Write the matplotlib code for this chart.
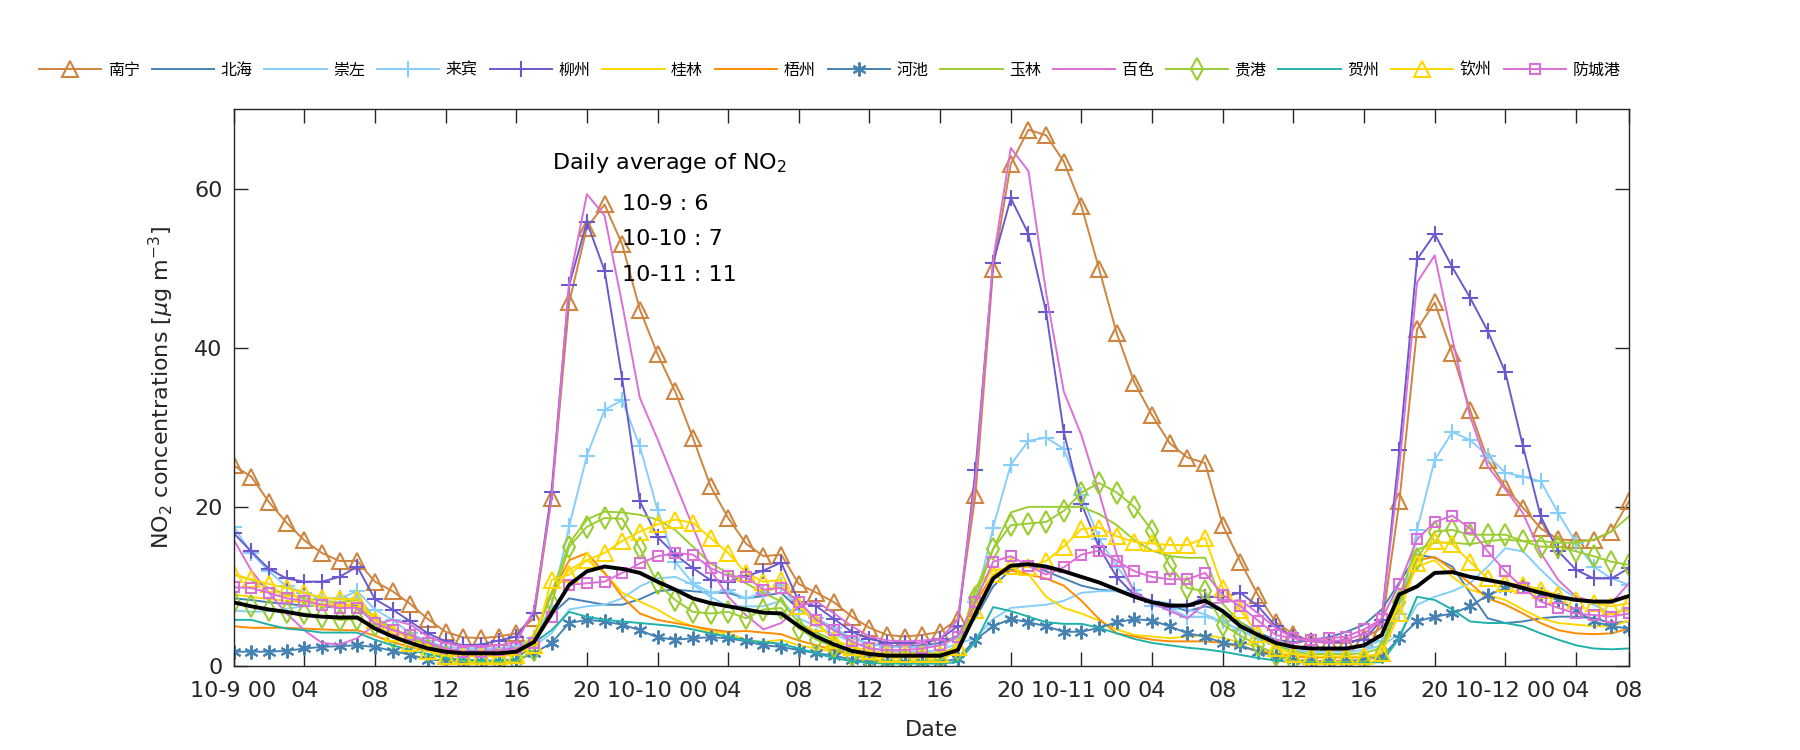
import numpy as np
import matplotlib
matplotlib.use('Agg')
import matplotlib.pyplot as plt

plt.rcParams['font.family'] = ['DejaVu Sans', 'Noto Sans CJK SC']
plt.rcParams['mathtext.fontset'] = 'dejavusans'

# hourly NO2, 10-9 00:00 .. 10-12 07:00 (80 points)
nanning = [25.2, 23.8, 20.6, 18.0, 15.8, 14.2, 13.2, 13.2, 10.6, 9.4, 7.8, 5.9, 4.3, 3.6, 3.5, 3.7, 4.1,
           6.0, 21.1, 45.7, 55.1, 58.0, 53.0, 44.8, 39.2, 34.5, 28.7, 22.6, 18.6,
           15.4, 13.8, 14.0, 10.3, 9.2, 8.0, 6.2, 4.8, 3.9, 3.7, 3.9, 4.3, 5.9, 21.5,
           49.9, 63.1, 67.4, 66.7, 63.4, 57.8, 49.9, 41.8, 35.6, 31.5, 28.0, 26.2, 25.5, 17.7,
           13.1, 8.9, 5.5, 4.0, 3.1, 2.9, 2.9, 3.5, 4.8, 20.7,
           42.3, 45.7, 39.3, 32.2, 25.9, 22.5, 19.9, 17.3, 15.9, 15.8, 15.8, 16.9, 20.7]
beihai = [8.5, 8.3, 8.0, 7.8, 7.6, 7.5, 7.3, 7.6, 5.8, 4.6, 3.5, 2.6, 2.1, 1.9, 1.9, 2.0, 2.3,
          3.5, 6.5, 8.5, 8.1, 7.7, 7.7, 8.4, 9.4, 9.6, 9.4, 9.2, 9.2,
          8.5, 8.8, 9.2, 7.1, 5.8, 4.5, 3.5, 2.8, 2.5, 2.5, 2.6, 2.9, 3.8, 6.0,
          10.0, 12.1, 12.8, 11.9, 11.0, 10.1, 9.6, 9.4, 8.7, 8.2, 7.6, 6.9, 7.5, 7.0,
          5.5, 4.2, 3.3, 3.0, 3.3, 3.6, 4.3, 5.2, 7.1, 10.5,
          14.0, 13.6, 12.5, 9.2, 6.0, 5.4, 5.6, 6.0, 6.2, 6.2, 6.0, 5.4, 5.6]
chongzuo = [7.0, 6.8, 6.9, 7.2, 7.5, 7.8, 7.8, 8.8, 6.0, 4.8, 3.6, 2.6, 2.0, 1.8, 1.7, 1.7, 1.9,
            2.5, 4.1, 7.1, 7.5, 7.7, 8.5, 10.0, 11.0, 11.2, 10.2, 8.7, 7.5,
            7.5, 7.5, 8.2, 6.0, 5.0, 4.0, 3.0, 2.2, 1.9, 1.8, 1.8, 2.0, 2.8, 3.5,
            5.9, 7.3, 7.5, 7.7, 8.2, 9.2, 9.4, 9.4, 9.0, 8.2, 7.9, 7.1, 6.5, 5.5,
            4.5, 3.4, 2.5, 2.0, 1.8, 1.8, 1.8, 2.0, 2.6, 4.0,
            7.7, 8.7, 9.4, 10.4, 12.5, 14.8, 14.4, 12.1, 10.0, 8.5, 7.7, 6.6, 7.1]
laibin = [17.5, 14.2, 11.9, 10.0, 9.2, 8.5, 8.5, 9.4, 7.1, 5.8, 4.1, 3.1, 2.4, 2.2, 2.2, 2.2, 2.5,
          3.5, 7.5, 17.6, 26.4, 32.2, 33.4, 27.6, 19.6, 13.1, 10.4, 9.2, 9.5,
          8.5, 9.2, 10.2, 7.1, 6.0, 4.8, 3.5, 2.8, 2.4, 2.4, 2.4, 2.6, 3.5, 8.0,
          17.4, 25.3, 28.3, 28.7, 27.3, 21.5, 16.0, 12.5, 9.6, 7.6, 7.2, 6.2, 6.2, 5.6,
          4.5, 3.5, 2.8, 2.4, 2.2, 2.2, 2.2, 2.4, 3.2, 6.5,
          17.1, 25.9, 29.4, 28.4, 26.4, 24.3, 23.8, 23.2, 19.2, 15.5, 12.5, 11.0, 10.2]
liuzhou = [16.7, 14.4, 12.2, 11.0, 10.6, 10.6, 11.2, 12.5, 8.4, 7.1, 5.6, 4.1, 3.1, 2.6, 2.7, 3.2, 3.7,
           6.6, 21.9, 47.9, 55.8, 49.7, 36.1, 20.7, 16.2, 14.0, 12.3, 10.8, 10.6,
           11.3, 12.0, 13.0, 8.1, 7.5, 5.9, 4.3, 3.4, 2.9, 2.9, 2.9, 3.4, 5.0, 24.6,
           50.7, 58.8, 54.3, 44.5, 29.4, 20.4, 14.9, 11.2, 8.9, 8.1, 7.4, 7.6, 8.7, 8.7,
           9.2, 7.5, 5.0, 3.7, 3.2, 3.0, 3.0, 3.3, 5.8, 27.1,
           51.1, 54.3, 50.1, 46.3, 42.1, 36.9, 27.6, 18.8, 14.4, 12.1, 11.0, 11.0, 12.3]
guilin = [9.0, 8.7, 8.4, 8.2, 8.0, 7.8, 7.6, 7.8, 5.8, 4.5, 3.4, 2.5, 1.8, 1.5, 1.4, 1.4, 1.6,
          4.0, 9.0, 12.1, 13.3, 11.7, 9.2, 8.1, 7.1, 5.8, 5.0, 4.3, 4.1,
          3.3, 3.0, 3.3, 2.6, 2.2, 1.8, 1.4, 1.2, 1.1, 1.1, 1.1, 1.2, 1.8, 10.0,
          12.0, 12.4, 11.5, 8.7, 7.3, 6.6, 5.7, 4.6, 3.9, 3.7, 3.5, 3.7, 3.9, 3.5,
          3.0, 2.4, 1.7, 1.3, 1.1, 1.1, 1.1, 1.1, 1.6, 8.0,
          12.5, 13.3, 11.2, 9.6, 8.9, 8.3, 7.1, 6.0, 5.4, 5.2, 5.0, 5.0, 5.7]
wuzhou = [5.0, 4.8, 4.8, 4.8, 4.7, 4.6, 4.5, 4.5, 3.8, 3.0, 2.4, 1.9, 1.6, 1.4, 1.3, 1.3, 1.5,
          3.5, 9.0, 13.3, 14.2, 11.7, 8.7, 6.6, 5.8, 5.4, 5.0, 4.6, 4.3,
          4.4, 4.2, 4.0, 3.2, 2.6, 2.0, 1.5, 1.2, 1.1, 1.1, 1.1, 1.1, 1.6, 8.0,
          11.5, 12.0, 11.5, 11.0, 10.1, 8.2, 5.9, 4.1, 3.7, 3.3, 3.1, 3.1, 3.1, 2.9,
          2.4, 1.9, 1.5, 1.2, 1.1, 1.1, 1.1, 1.1, 1.6, 8.0,
          13.3, 13.7, 12.1, 10.4, 8.5, 7.7, 6.6, 5.4, 4.5, 4.1, 4.0, 4.1, 4.7]
hechi = [1.8, 1.8, 1.8, 1.9, 2.2, 2.4, 2.5, 2.6, 2.4, 1.9, 1.4, 0.8, 0.7, 0.6, 0.6, 0.6, 0.7,
         1.6, 2.9, 5.4, 5.8, 5.6, 5.2, 4.5, 3.6, 3.3, 3.5, 3.6, 3.5,
         3.1, 2.6, 2.4, 2.0, 1.6, 1.3, 0.8, 0.6, 0.5, 0.5, 0.5, 0.5, 0.9, 3.3,
         5.0, 5.9, 5.5, 5.0, 4.3, 4.3, 4.8, 5.5, 5.9, 5.7, 5.0, 4.1, 3.7, 2.9,
         2.6, 1.8, 1.2, 0.8, 0.6, 0.6, 0.6, 0.8, 1.2, 3.5,
         5.6, 6.2, 6.6, 7.5, 8.9, 9.8, 10.0, 9.0, 8.3, 7.0, 5.6, 5.0, 4.7]
yulin = [11.5, 10.8, 9.8, 9.0, 8.5, 8.2, 8.0, 8.3, 6.0, 4.8, 3.6, 2.7, 2.0, 1.7, 1.6, 1.6, 1.8,
         3.5, 9.2, 15.4, 18.4, 19.4, 19.3, 19.0, 18.4, 17.1, 15.0, 12.9, 11.7,
         10.4, 9.2, 8.1, 5.4, 4.2, 3.2, 2.4, 1.8, 1.6, 1.6, 1.6, 1.6, 2.4, 9.5,
         14.7, 19.3, 20.0, 20.0, 20.0, 20.0, 19.1, 17.7, 15.8, 14.5, 13.8, 13.6, 13.6, 7.8,
         5.5, 3.8, 2.6, 1.8, 1.5, 1.5, 1.5, 1.6, 2.3, 9.0,
         14.6, 15.5, 15.5, 15.3, 15.7, 15.9, 15.7, 15.7, 15.5, 15.5, 15.9, 16.9, 18.8]
baise = [15.9, 12.0, 9.2, 6.6, 4.5, 2.9, 2.7, 3.5, 5.2, 5.8, 5.2, 3.7, 2.9, 2.5, 2.5, 2.6, 3.0,
         7.0, 21.0, 48.2, 59.3, 56.6, 45.5, 33.7, 28.5, 23.0, 17.5, 12.1, 8.7,
         6.4, 4.6, 5.4, 7.5, 8.1, 6.6, 5.0, 3.7, 3.2, 3.1, 3.2, 3.4, 5.8, 23.4,
         51.0, 65.1, 62.2, 46.9, 34.5, 29.0, 21.8, 14.0, 9.2, 8.0, 6.9, 6.0, 7.8, 8.0,
         8.3, 6.6, 4.8, 3.5, 3.1, 3.1, 3.3, 4.0, 6.0, 25.0,
         48.2, 51.6, 41.1, 31.4, 25.1, 22.2, 19.2, 14.2, 10.8, 8.7, 8.1, 7.9, 10.4]
guigang = [8.0, 7.5, 7.1, 6.8, 6.6, 6.2, 5.8, 5.9, 5.2, 3.7, 3.0, 2.0, 1.1, 0.6, 0.5, 0.5, 0.5,
           2.0, 7.9, 15.0, 17.5, 18.6, 18.5, 14.8, 10.4, 8.3, 6.8, 6.6, 6.8,
           6.0, 7.1, 7.3, 4.7, 3.3, 2.4, 1.4, 0.8, 0.6, 0.5, 0.6, 0.8, 2.0, 8.5,
           14.7, 17.7, 17.9, 18.1, 19.5, 21.8, 23.0, 21.8, 20.0, 17.0, 12.6, 9.8, 9.4, 5.2,
           3.8, 2.6, 1.4, 0.6, 0.5, 0.5, 0.5, 0.5, 1.7, 8.0,
           13.5, 16.9, 17.1, 16.5, 16.5, 16.5, 15.7, 15.0, 15.0, 14.4, 13.8, 13.1, 12.7]
hezhou = [5.8, 5.8, 5.2, 4.7, 4.5, 4.2, 4.2, 4.2, 3.3, 2.6, 2.0, 1.5, 1.0, 0.8, 0.7, 0.7, 0.8,
          2.9, 4.5, 6.8, 6.2, 5.8, 5.6, 5.4, 5.2, 5.0, 4.6, 4.1, 3.7,
          3.2, 3.0, 2.8, 2.2, 1.6, 1.0, 0.6, 0.4, 0.3, 0.3, 0.3, 0.3, 0.5, 3.0,
          7.4, 6.9, 6.2, 5.5, 5.3, 5.3, 4.8, 4.1, 3.4, 2.9, 2.6, 2.3, 2.1, 1.8,
          1.4, 1.0, 0.7, 0.5, 0.4, 0.4, 0.4, 0.4, 0.5, 3.5,
          8.7, 8.3, 7.1, 5.6, 5.4, 5.4, 5.0, 4.1, 3.3, 2.6, 2.2, 2.1, 2.2]
qinzhou = [11.5, 10.9, 10.3, 9.8, 9.2, 8.6, 8.4, 8.4, 5.8, 4.1, 2.9, 1.9, 1.3, 1.2, 1.2, 1.2, 1.4,
           2.6, 10.8, 11.5, 13.3, 14.2, 15.7, 16.9, 17.8, 18.4, 18.0, 16.1, 14.2,
           11.7, 10.6, 10.8, 7.5, 5.4, 3.3, 2.4, 1.9, 1.5, 1.5, 1.5, 1.5, 2.4, 7.0,
           11.5, 12.6, 12.4, 13.2, 15.0, 17.2, 17.4, 16.3, 15.6, 15.4, 15.2, 15.2, 16.1, 9.8,
           7.0, 4.0, 2.3, 1.5, 1.2, 1.2, 1.2, 1.2, 1.6, 6.6,
           13.0, 15.7, 15.3, 13.1, 11.0, 10.4, 10.2, 9.6, 8.9, 8.3, 7.9, 7.5, 7.9]
fangchenggang = [9.9, 9.8, 9.2, 8.5, 8.2, 7.7, 7.3, 7.3, 5.4, 4.5, 3.9, 2.9, 2.2, 1.8, 1.8, 2.0, 2.2,
                 2.9, 6.2, 10.2, 10.4, 10.6, 11.7, 12.9, 13.8, 14.2, 14.0, 12.3, 11.3,
                 11.2, 9.6, 9.8, 8.1, 5.8, 4.5, 3.1, 2.2, 2.0, 2.0, 2.2, 2.6, 3.7, 8.1,
                 13.1, 13.8, 12.6, 11.5, 12.4, 14.0, 14.5, 13.2, 11.9, 11.2, 10.9, 10.9, 11.7, 8.9,
                 7.5, 5.7, 3.9, 3.5, 3.3, 3.5, 3.7, 4.6, 5.9, 10.3,
                 15.9, 18.1, 18.9, 17.3, 14.4, 11.9, 9.8, 8.1, 7.3, 6.6, 6.4, 6.2, 6.6]
average = [8.0, 7.5, 7.1, 6.8, 6.4, 6.2, 6.1, 6.1, 4.7, 3.7, 2.9, 2.2, 1.8, 1.6, 1.6, 1.6, 1.8,
           3.0, 6.6, 10.2, 11.9, 12.5, 12.2, 11.7, 10.6, 9.6, 8.5, 7.9, 7.5,
           7.1, 6.7, 6.6, 5.0, 3.7, 2.7, 1.9, 1.5, 1.3, 1.3, 1.3, 1.3, 2.0, 6.6,
           11.0, 12.6, 12.8, 12.5, 11.9, 11.2, 10.5, 9.6, 8.7, 8.0, 7.6, 7.6, 8.2, 6.9,
           5.0, 3.9, 2.9, 2.4, 2.2, 2.2, 2.2, 2.6, 3.9, 9.0,
           10.0, 11.7, 11.8, 11.2, 10.8, 10.4, 9.8, 9.2, 8.7, 8.3, 8.1, 8.1, 8.8]

cities = ['南宁', '北海', '崇左', '来宾', '柳州', '桂林', '梧州',
          '河池', '玉林', '百色', '贵港', '贺州', '钦州', '防城港']
series = [nanning, beihai, chongzuo, laibin, liuzhou, guilin, wuzhou,
          hechi, yulin, baise, guigang, hezhou, qinzhou, fangchenggang]

tick_hours = list(range(0, 77, 4)) + [79]
tick_labels = ['10-9 00', '04', '08', '12', '16', '20',
               '10-10 00', '04', '08', '12', '16', '20',
               '10-11 00', '04', '08', '12', '16', '20',
               '10-12 00', '04', '08']
daily_avg = ['10-9 : 6', '10-10 : 7', '10-11 : 11']

# (color, marker, markersize)
styles = [('#CD853F', '^', 11), ('#4682B4', None, 0), ('#87CEFA', None, 0),
          ('#87CEFA', '+', 12), ('#6A5ACD', '+', 12), ('#FFD700', None, 0),
          ('#FF8C00', None, 0), ('#4682B4', (6, 2, 0), 10), ('#9ACD32', None, 0),
          ('#DA70D6', None, 0), ('#9ACD32', 'd', 11), ('#20B2AA', None, 0),
          ('#FFD700', '^', 11), ('#DA70D6', 's', 7)]

hours = np.arange(len(nanning))

fig = plt.figure(figsize=(18, 7.5), dpi=100)
ax = fig.add_axes([233.6 / 1800, 84 / 750, 1395.4 / 1800, 557 / 750])

handles = []
for vals, (c, m, ms), name in zip(series, styles, cities):
    ln, = ax.plot(hours, vals, color=c, lw=1.4, marker=m, ms=ms,
                  mfc='none', mec=c, mew=1.5, label=name)
    handles.append(ln)
ax.plot(hours, average, color='black', lw=2.8, zorder=5)

ax.set_xlim(0, 79)
ax.set_ylim(0, 70)
ax.set_xticks(tick_hours)
ax.set_xticklabels(tick_labels)
ax.set_yticks([0, 20, 40, 60])
ax.tick_params(direction='in', length=10, width=1, top=True, right=True,
               labelsize=16, colors='#262626')
ax.tick_params(axis='x', pad=11)
ax.tick_params(axis='y', pad=8)
for sp in ax.spines.values():
    sp.set_color('#262626')
    sp.set_linewidth(1)

ax.set_xlabel('Date', fontsize=16, color='#262626')
ax.set_ylabel(r'NO$_2$ concentrations [$\mu$g m$^{-3}$]', fontsize=16, color='#262626')
ax.xaxis.set_label_coords(0.5, -0.097)
ax.yaxis.set_label_coords(-0.041, 0.5)

ax.text(18.0, 63.2, 'Daily average of NO$_2$', fontsize=16, va='center', ha='left')
for i, s in enumerate(daily_avg):
    ax.text(22.0, 58.1 - 4.5 * i, s, fontsize=16, va='center', ha='left')

fig.legend(handles=handles, labels=cities, ncol=14, loc='center left',
           bbox_to_anchor=(39 / 1800, 1 - 70 / 750), frameon=False,
           handlelength=3.9, handletextpad=0.4, columnspacing=0.75,
           borderpad=0, borderaxespad=0, numpoints=1,
           prop={'family': ['Noto Sans CJK SC', 'DejaVu Sans'], 'size': 11.5})

fig.savefig('out.png', dpi=100, facecolor='white')
